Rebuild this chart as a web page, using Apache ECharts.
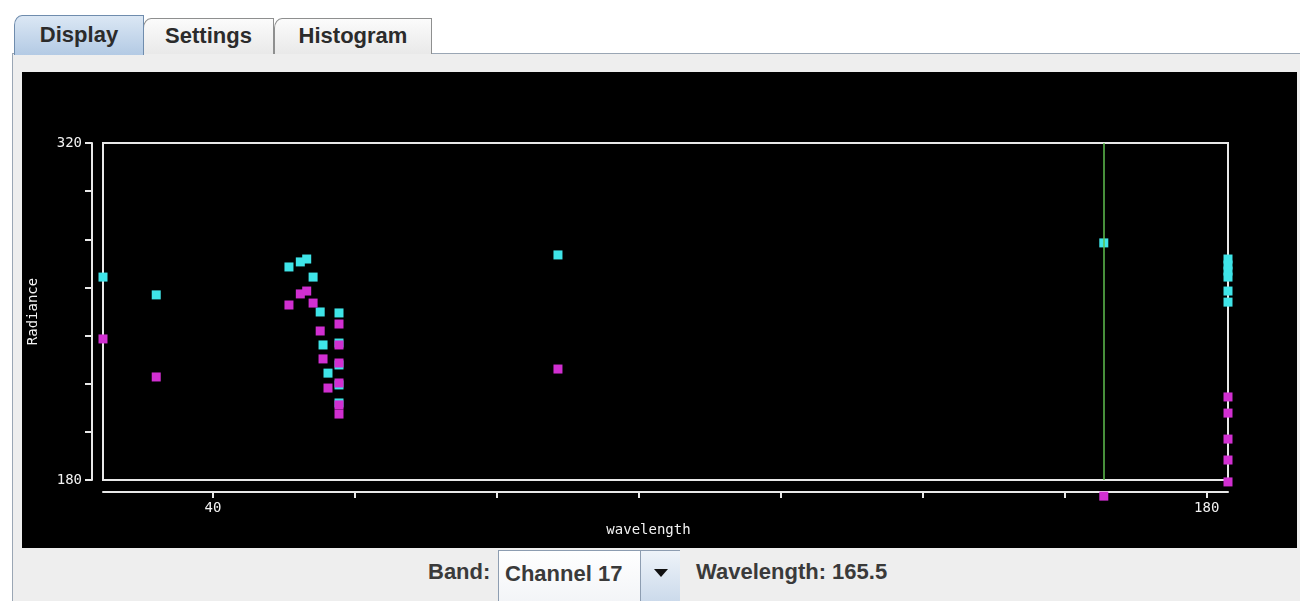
<!DOCTYPE html>
<html>
<head>
<meta charset="utf-8">
<title>Display</title>
<script src="https://cdn.jsdelivr.net/npm/echarts@6/dist/echarts.min.js"></script>
<style>
  html, body { margin: 0; padding: 0; width: 1300px; height: 601px; overflow: hidden; background: #ffffff; }
  body { position: relative; font-family: "Liberation Sans", Arial, sans-serif; }
  .tab { position: absolute; box-sizing: border-box; border: 1px solid #8e8f8f; border-bottom: none;
         border-top-left-radius: 8px 10px; font-weight: bold; font-size: 22px; color: #2b2b2b;
         text-align: center; background: linear-gradient(#fbfbfb, #e9e9e9); }
  .tab.sel { background: linear-gradient(#dbe7f4, #b3cae4); border-color: #6f8cad; z-index: 2; }
  #content { position: absolute; left: 12px; top: 53px; right: 0; bottom: 0; box-sizing: border-box;
             background: #eeeeee; border-left: 1px solid #9aa6b4; border-top: 1px solid #9aa6b4; }
  #chart { position: absolute; left: 22px; top: 72px; width: 1275px; height: 476px; background: #000; }
  .lbl { position: absolute; font-weight: bold; font-size: 22px; color: #3a3a3a; white-space: nowrap; }
  #combo { position: absolute; left: 498px; top: 550px; width: 182px; height: 56px; box-sizing: border-box;
           border: 1px solid #8d9db1; background: linear-gradient(#ffffff, #f2f4f7); }
  #combo .txt { position: absolute; left: 6px; top: 10px; font-weight: bold; font-size: 22px; color: #3a3a3a; }
  #combo .btn { position: absolute; left: 141px; top: 0; width: 40px; height: 100%; box-sizing: border-box;
                border-left: 1px solid #8d9db1; background: linear-gradient(#eef3f9, #c9d8ea); }
  #combo .arr { position: absolute; left: 13px; top: 18px; width: 0; height: 0;
                border-left: 7px solid transparent; border-right: 7px solid transparent; border-top: 8px solid #111; }
</style>
</head>
<body>
<div id="content"></div>
<div class="tab" style="left:143px; top:18px; width:131px; height:36px; line-height:34px;">Settings</div>
<div class="tab" style="left:274px; top:18px; width:158px; height:36px; line-height:34px;">Histogram</div>
<div class="tab sel" style="left:14px; top:15px; width:130px; height:40px; line-height:38px;">Display</div>
<div id="chart"></div>
<div class="lbl" style="left:428px; top:559px;">Band:</div>
<div id="combo"><div class="txt">Channel 17</div><div class="btn"><div class="arr"></div></div></div>
<div class="lbl" style="left:696px; top:559px;">Wavelength: 165.5</div>

<script>
// Band radiances plotted against band wavelength
const cyanWavelength = [24.5, 32.0, 50.7, 52.3, 53.2, 54.1, 55.1, 55.5, 56.2,
                        57.75, 57.75, 57.75, 57.75, 57.75, 88.6, 165.5,
                        183, 183, 183, 183, 183, 183];
const cyanRadiance   = [264.3, 256.9, 268.5, 270.6, 271.8, 264.3, 249.8, 236.1, 224.4,
                        249.4, 236.9, 227.8, 219.5, 212.0, 273.5, 278.5,
                        271.8, 269.3, 266.8, 264.3, 258.5, 253.9];

const magentaWavelength = [24.5, 32.0, 50.7, 52.3, 53.2, 54.1, 55.1, 55.5, 56.2,
                           57.75, 57.75, 57.75, 57.75, 57.75, 57.75, 88.6, 165.5,
                           183, 183, 183, 183, 183];
const magentaRadiance   = [238.6, 222.8, 252.7, 257.3, 258.5, 253.5, 241.9, 230.3, 218.2,
                           244.8, 236.1, 228.6, 220.3, 211.2, 207.4, 226.1, 173.3,
                           214.5, 207.8, 197.0, 188.3, 179.2];

const selectedWavelength = 165.5;

const xTickValues  = [40, 60, 80, 100, 120, 140, 160, 180];
const xLabelValues = [40, 180];
const yRange = [180, 320];
const yLabelValues = [180, 320];

const pairs = (xs, ys) => xs.map((x, i) => [x, ys[i]]);
const allWl = cyanWavelength.concat(magentaWavelength);

const axisFont = { color: '#f2f2f2', fontFamily: 'DejaVu Sans Mono', fontSize: 14 };

const chart = echarts.init(document.getElementById('chart'), null, { renderer: 'canvas' });
chart.setOption({
  animation: false,
  backgroundColor: '#000000',
  grid: {
    left: 81, top: 71, width: 1125, height: 337,
    outerBoundsMode: 'none',
    containLabel: false,
    show: true, borderColor: '#e8e8e8', borderWidth: 2, backgroundColor: 'transparent'
  },
  xAxis: {
    type: 'value',
    min: Math.min(...allWl),
    max: Math.max(...allWl),
    offset: 12,
    name: 'wavelength',
    nameLocation: 'middle',
    nameGap: 31,
    nameTextStyle: Object.assign({}, axisFont, { padding: [0, 34, 0, 0] }),
    axisLine: { show: true, onZero: false, lineStyle: { color: '#e8e8e8', width: 2 } },
    axisTick: { show: true, length: 6, customValues: xTickValues, lineStyle: { color: '#e8e8e8', width: 2 } },
    axisLabel: Object.assign({ customValues: xLabelValues, margin: 9 }, axisFont),
    splitLine: { show: false }
  },
  yAxis: {
    type: 'value',
    min: yRange[0],
    max: yRange[1],
    interval: 20,
    offset: 11,
    name: 'Radiance',
    nameLocation: 'middle',
    nameGap: 52,
    nameTextStyle: axisFont,
    axisLine: { show: true, onZero: false, lineStyle: { color: '#e8e8e8', width: 2 } },
    axisTick: { show: true, length: 7, lineStyle: { color: '#e8e8e8', width: 2 } },
    axisLabel: Object.assign({ customValues: yLabelValues, margin: 10 }, axisFont),
    splitLine: { show: false }
  },
  series: [
    {
      type: 'scatter',
      data: [],
      z: 1,
      markLine: {
        silent: true,
        symbol: ['none', 'none'],
        label: { show: false },
        lineStyle: { color: '#5fbf4f', width: 1.5, type: 'solid', opacity: 1 },
        data: [{ xAxis: selectedWavelength }]
      }
    },
    {
      type: 'scatter',
      z: 2,
      clip: false,
      symbol: 'rect',
      symbolSize: 9,
      itemStyle: { color: '#3fe4e8', opacity: 1 },
      data: pairs(cyanWavelength, cyanRadiance)
    },
    {
      type: 'scatter',
      z: 3,
      clip: false,
      symbol: 'rect',
      symbolSize: 9,
      itemStyle: { color: '#d12fd1', opacity: 1 },
      data: pairs(magentaWavelength, magentaRadiance)
    }
  ]
});
</script>
</body>
</html>
